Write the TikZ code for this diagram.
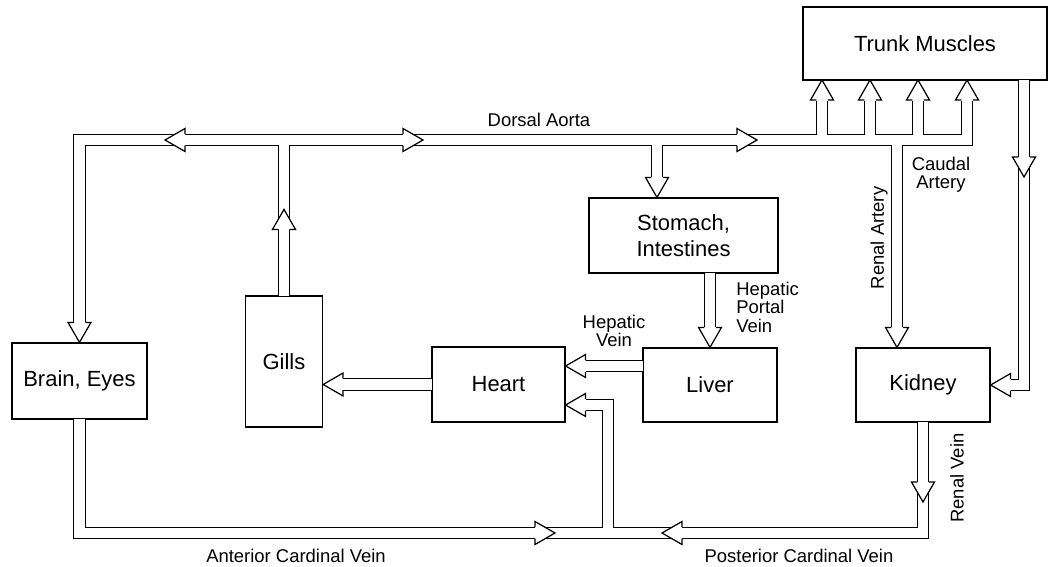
\documentclass[tikz,border=0pt]{standalone}
\usepackage{fontspec}
\setmainfont{Liberation Sans}
\usepackage{tikz}

\newcommand{\vessels}[1]{%
	\draw[#1, headstart, headend] (brain.north) -- (brain.north |- ao) -- (caud) -- (caud |- trunk.south);
	\foreach \x in {822,870,918} {\coordinate (b) at (\x,140); \draw[#1, headend] (b) -- (b |- trunk.south);}
	\draw[#1, frombox] (gills.north) -- (gills.north |- ao);
	\draw[#1, headend] (gut) -- (gut |- stomach.north);
	\draw[#1, headend] (ren) -- (ren |- kidney.north);
	\draw[#1, frombox, headend] (liver.north |- stomach.south) -- (liver.north);
	\draw[#1, frombox, headend] (hv) -- (hv -| heart.east);
	\draw[#1, frombox, headend] (heart.west) -- (heart.west -| gills.east);
	\draw[#1, frombox, tobox] (brain.south) -- (brain.south |- cv) -- (kidney.south |- cv) -- (kidney.south);
	\draw[#1, headend] (pc) -- (pc |- hr) -- (hr);
	\draw[#1, frombox, headend] (tr |- trunk.south) -- (tr |- kidney.east) -- (kidney.east);
}

\begin{document}
\begin{tikzpicture}[x=0.02cm, y=-0.02cm,
	organ/.style={draw, rectangle, fill=white, line width=0.7pt, inner sep=0pt, align=center, font=\fontsize{12.5}{15}\selectfont},
	vlabel/.style={inner sep=0pt, align=center, font=\fontsize{10.5}{10.5}\selectfont},
	wall/.style={line width=7.2pt},
	lumen/.style={white, line width=5.8pt},
	frombox/.style={shorten <=-0.6pt},
	tobox/.style={shorten >=-0.6pt},
	headstart/.style={shorten <=0.4cm},
	headend/.style={shorten >=0.4cm},
	head/.pic={\filldraw[fill=white, line width=0.7pt] (-20,5.75) -- (-20,11.5) -- (0,0) -- (-20,-11.5) -- (-20,-5.75);}]
	\useasboundingbox (0,0) rectangle (1049,567);
	\node[organ, minimum width=4.88cm, minimum height=1.46cm] (trunk) at (925,43.5) {Trunk Muscles};
	\node[organ, minimum width=3.78cm, minimum height=1.5cm] (stomach) at (683.5,235.5) {Stomach,\\Intestines};
	\node[organ, minimum width=2.7cm, minimum height=1.52cm] (brain) at (79.5,381) {Brain, Eyes};
	\node[organ, minimum width=1.54cm, minimum height=2.62cm] (gills) at (284,361.5) {Gills};
	\node[organ, minimum width=2.66cm, minimum height=1.5cm] (heart) at (498.5,384.5) {Heart};
	\node[organ, minimum width=2.68cm, minimum height=1.48cm] (liver) at (710,385) {Liver};
	\node[organ, minimum width=2.68cm, minimum height=1.48cm] (kidney) at (923,385) {Kidney};
	\coordinate (ao) at (0,140);
	\coordinate (cv) at (0,533);
	\coordinate (caud) at (967,140);
	\coordinate (gut) at (657,140);
	\coordinate (ren) at (897,140);
	\coordinate (pc) at (608,533);
	\coordinate (tr) at (1024,0);
	\coordinate (hv) at ([yshift=0.38cm]liver.west);
	\coordinate (hr) at ([yshift=-0.41cm]heart.east);
	\vessels{wall}
	\vessels{lumen}
	\pic[rotate=-90] at (brain.north) {head};
	\pic[rotate=180] at (165,140) {head};
	\pic at (423,140) {head};
	\pic at (757,140) {head};
	\pic[rotate=90] at ([yshift=1.72cm]gills.north) {head};
	\foreach \x in {822,870,918,967} \pic[rotate=90] at (\x,80) {head};
	\pic[rotate=-90] at (gut |- stomach.north) {head};
	\pic[rotate=-90] at (ren |- kidney.north) {head};
	\pic[rotate=-90] at (liver.north) {head};
	\pic[rotate=180] at (hv -| heart.east) {head};
	\pic[rotate=180] at (heart.west -| gills.east) {head};
	\pic[rotate=180] at (hr) {head};
	\pic[rotate=-90] at (1024,177) {head};
	\pic[rotate=180] at (kidney.east) {head};
	\pic[rotate=-90] at (923,502) {head};
	\pic at (555,533) {head};
	\pic[rotate=180] at (662,533) {head};
	\node[vlabel] (da) at (539,120) {Dorsal Aorta};
	\node[vlabel] (ca) at (941,175) {Caudal\\Artery};
	\node[vlabel, rotate=90] (ra) at (879,238) {Renal Artery};
	\node[vlabel, rotate=90] (rv) at (957,478) {Renal Vein};
	\node[vlabel, align=left, anchor=west] (hpv) at (736,307) {Hepatic\\Portal\\Vein};
	\node[vlabel] (hvl) at (614,331) {Hepatic\\Vein};
	\node[vlabel] (acv) at (296,556) {Anterior Cardinal Vein};
	\node[vlabel] (pcv) at (799,556) {Posterior Cardinal Vein};
\end{tikzpicture}
\end{document}
